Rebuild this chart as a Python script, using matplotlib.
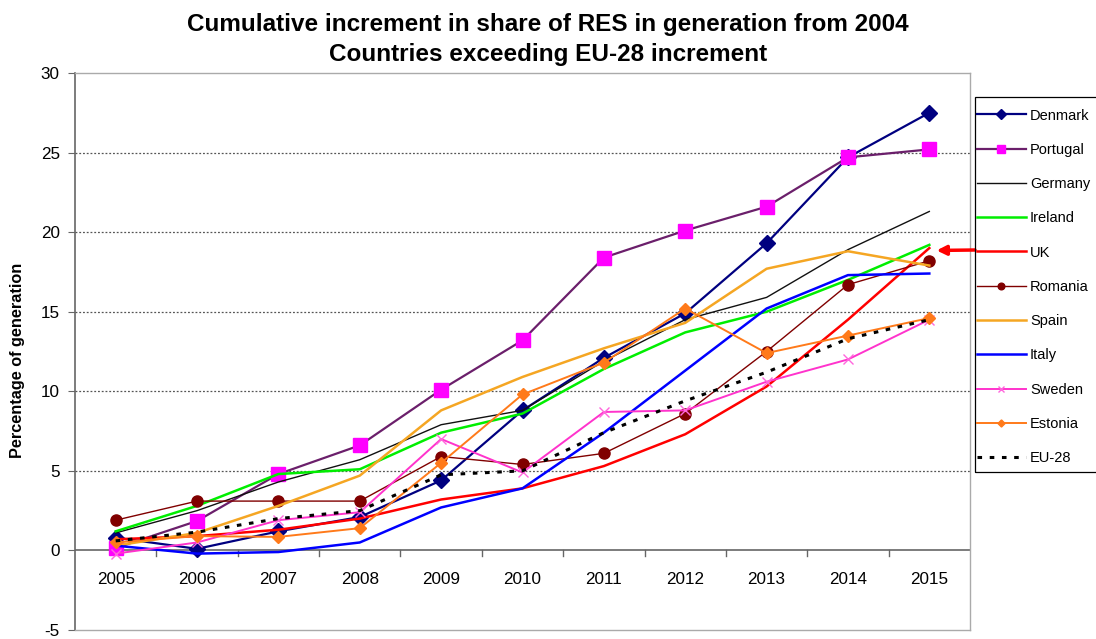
import matplotlib
matplotlib.use("Agg")
import matplotlib.pyplot as plt
from matplotlib.ticker import MultipleLocator
from matplotlib.patches import Rectangle

plt.rcParams['font.family'] = ['Liberation Sans', 'DejaVu Sans']
plt.rcParams['axes.unicode_minus'] = False

years = [2005, 2006, 2007, 2008, 2009, 2010, 2011, 2012, 2013, 2014, 2015]

denmark  = [0.8, 0.1, 1.2, 2.1, 4.4, 8.8, 12.1, 14.9, 19.3, 24.7, 27.5]
portugal = [0.15, 1.85, 4.8, 6.6, 10.1, 13.2, 18.4, 20.1, 21.6, 24.7, 25.2]
germany  = [1.1, 2.5, 4.3, 5.7, 7.9, 8.8, 11.9, 14.5, 15.9, 18.9, 21.3]
ireland  = [1.2, 2.8, 4.8, 5.1, 7.4, 8.6, 11.4, 13.7, 15.0, 17.0, 19.2]
uk       = [0.7, 0.9, 1.3, 2.0, 3.2, 3.9, 5.3, 7.3, 10.3, 14.5, 19.0]
romania  = [1.9, 3.1, 3.1, 3.1, 5.9, 5.4, 6.1, 8.6, 12.5, 16.7, 18.2]
spain    = [0.3, 1.1, 2.8, 4.7, 8.8, 10.9, 12.7, 14.3, 17.7, 18.8, 17.9]
italy    = [0.3, -0.2, -0.1, 0.5, 2.7, 3.9, 7.4, 11.3, 15.2, 17.3, 17.4]
sweden   = [-0.2, 0.5, 1.9, 2.4, 7.0, 4.9, 8.7, 8.8, 10.6, 12.0, 14.5]
estonia  = [0.5, 0.9, 0.85, 1.4, 5.5, 9.8, 11.8, 15.2, 12.4, 13.5, 14.6]
eu28     = [0.6, 1.15, 2.0, 2.5, 4.75, 5.0, 7.4, 9.4, 11.2, 13.3, 14.5]

title_line1 = "Cumulative increment in share of RES in generation from 2004"
title_line2 = "Countries exceeding EU-28 increment"
y_label = "Percentage of generation"

W, H = 1096, 639
fig = plt.figure(figsize=(W / 100, H / 100), dpi=100)
ax = fig.add_axes([75 / W, 1 - 630 / H, (970 - 75) / W, (630 - 73) / H])

ax.set_xlim(2004.5, 2015.5)
ax.set_ylim(-5, 30)

series = [
    ("Denmark", denmark, dict(color="#000080", lw=1.6, marker="D", ms=8.5, mfc="#000080", mec="#000080")),
    ("Portugal", portugal, dict(color="#6b1f6b", lw=1.6, marker="s", ms=10, mfc="#ff00ff", mec="#ff00ff")),
    ("Germany", germany, dict(color="#111111", lw=1.0)),
    ("Ireland", ireland, dict(color="#00ee00", lw=1.8)),
    ("UK", uk, dict(color="#ff0000", lw=1.8)),
    ("Romania", romania, dict(color="#800000", lw=1.0, marker="o", ms=8, mfc="#800000", mec="#800000")),
    ("Spain", spain, dict(color="#f5a623", lw=1.8)),
    ("Italy", italy, dict(color="#0000ff", lw=1.8)),
    ("Sweden", sweden, dict(color="#ff33cc", lw=1.4, marker="x", ms=7, mec="#ff66dd")),
    ("Estonia", estonia, dict(color="#ff7a1a", lw=1.4, marker="D", ms=6, mfc="#ff7a1a", mec="#ff7a1a")),
    ("EU-28", eu28, dict(color="#000000", lw=2.2, ls=(0, (1.5, 2.5)))),
]

handles = []
for name, vals, style in series:
    h, = ax.plot(years, vals, label=name, zorder=3, **style)
    handles.append(h)

# dotted grid
for v in [5, 10, 15, 20, 25]:
    ax.axhline(v, color="#555555", lw=0.9, ls=(0, (1.5, 1.5)), zorder=1)

# frame
for s in ["top", "right", "bottom"]:
    ax.spines[s].set_color("#aaaaaa")
    ax.spines[s].set_linewidth(1.0)
ax.spines["left"].set_color("#666666")
ax.spines["left"].set_linewidth(1.2)
ax.axhline(0, color="#666666", lw=1.2, zorder=2)

ax.yaxis.set_major_locator(MultipleLocator(5))
ax.tick_params(axis="y", direction="out", length=5, color="#666666", labelsize=12.3, pad=6)

# category labels along the zero line
ax.set_xticks([])
for yr in years:
    ax.text(yr, -1.85, str(yr), ha="center", va="center", fontsize=12.3)
for b in [2005.5 + i for i in range(10)]:
    ax.plot([b, b], [0, -0.35], color="#666666", lw=1.0, zorder=2, clip_on=False)

fig.text(18 / W, 1 - 360 / H, y_label, rotation=90, ha="center", va="center",
         fontsize=11.7, fontweight="bold")

fig.text(0.5, 1 - 24 / H, title_line1, ha="center", va="center", fontsize=17.5, fontweight="bold")
fig.text(0.5, 1 - 54 / H, title_line2, ha="center", va="center", fontsize=17.5, fontweight="bold")

# legend box
fig.patches.append(Rectangle((975 / W, 1 - 472 / H), (1120 - 975) / W, (472 - 97) / H,
                             transform=fig.transFigure, fill=False, edgecolor="#000000",
                             lw=0.9, zorder=5))
leg = fig.legend(handles=handles, loc="upper left",
                 bbox_to_anchor=(977 / W, 1 - 108.5 / H),
                 frameon=False, fontsize=10.5, labelspacing=1.39, handlelength=3.35,
                 handletextpad=0.28, borderpad=0, borderaxespad=0)
for lh in leg.legend_handles:
    if lh.get_marker() not in (None, "None", ""):
        lh.set_markersize(lh.get_markersize() * 0.6)

# red arrow pointing at UK
ax.annotate("", xy=(2015.09, 18.85), xytext=(975 / W, 1 - 250 / H),
            textcoords="figure fraction",
            arrowprops=dict(arrowstyle="-|>", color="#ff0000", lw=2.5,
                            mutation_scale=14, shrinkA=0, shrinkB=0),
            annotation_clip=False)

fig.savefig("out.png", dpi=100)
